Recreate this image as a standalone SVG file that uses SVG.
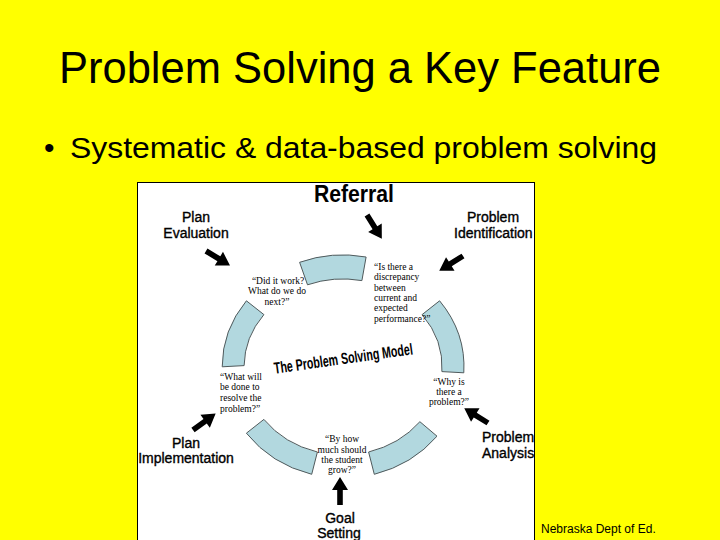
<svg xmlns="http://www.w3.org/2000/svg" width="720" height="540" viewBox="0 0 720 540">
<style>
.title{font-family:"Liberation Sans",Arial,sans-serif;fill:#000}
.lbl{font-family:"Liberation Sans",Arial,sans-serif;font-size:14px;fill:#000;stroke:#000;stroke-width:0.35}
.q{font-family:"Liberation Serif","Times New Roman",serif;font-size:9.5px;fill:#000}
.seg{fill:#b2d8df;stroke:#505a5c;stroke-width:1}
.arr{fill:#000}
</style>
<defs>
<path id="arrow" d="M0,-2.8 L15,-2.8 L15,-8 L28,0 L15,8 L15,2.8 L0,2.8 Z"/>
</defs>
<rect x="0" y="0" width="720" height="540" fill="#ffff00"/>
<text class="title" x="360" y="83" font-size="43.5" text-anchor="middle">Problem Solving a Key Feature</text>
<text class="title" x="44" y="158" font-size="30">•</text>
<text class="title" x="70" y="158" font-size="30" textLength="587" lengthAdjust="spacingAndGlyphs">Systematic &amp; data-based problem solving</text>

<rect x="137.5" y="182.5" width="397" height="362" fill="#ffffff" stroke="#000" stroke-width="1"/>

<g id="ring">
<path class="seg" d="M299.6,262.3 A121,111 0 0 1 366.1,257.0 L361.9,280.6 A99,88 0 0 0 307.5,284.8 Z"/>
<path class="seg" d="M439.6,300.8 A121,110 0 0 1 463.8,372.8 L441.9,371.6 A99,87 0 0 0 422.1,314.6 Z"/>
<path class="seg" d="M437.0,436.2 A121,110 0 0 1 374.3,474.3 L368.6,452.0 A99,87 0 0 0 419.9,421.7 Z"/>
<path class="seg" d="M311.7,474.3 A121,110 0 0 1 246.4,433.2 L263.9,419.4 A99,87 0 0 0 317.4,452.0 Z"/>
<path class="seg" d="M222.2,366.8 A121,110 0 0 1 246.4,300.8 L263.9,314.6 A99,87 0 0 0 244.1,365.6 Z"/>
</g>

<g id="connectors">
<use href="#arrow" class="arr" transform="translate(367,215) rotate(58)"/>
<use href="#arrow" class="arr" transform="translate(206,251) rotate(31)"/>
<use href="#arrow" class="arr" transform="translate(463,256) rotate(148)"/>
<use href="#arrow" class="arr" transform="translate(488,423) rotate(212)"/>
<use href="#arrow" class="arr" transform="translate(340,505) rotate(-90)"/>
<use href="#arrow" class="arr" transform="translate(193,430) rotate(-36)"/>
</g>

<g id="referral">
<text class="title" x="314" y="202" font-size="24" font-weight="bold" textLength="80" lengthAdjust="spacingAndGlyphs">Referral</text>
</g>
<g id="plan-evaluation">
<text class="lbl" x="196" y="222" text-anchor="middle">Plan</text>
<text class="lbl" x="196" y="238" text-anchor="middle">Evaluation</text>
</g>
<g id="problem-identification">
<text class="lbl" x="493" y="222" text-anchor="middle">Problem</text>
<text class="lbl" x="454" y="238">Identification</text>
</g>
<g id="problem-analysis">
<text class="lbl" x="482" y="442">Problem</text>
<text class="lbl" x="482" y="458">Analysis</text>
</g>
<g id="goal-setting">
<text class="lbl" x="340" y="523" text-anchor="middle">Goal</text>
<text class="lbl" x="339" y="538" text-anchor="middle">Setting</text>
</g>
<g id="plan-implementation">
<text class="lbl" x="186" y="448" text-anchor="middle">Plan</text>
<text class="lbl" x="186" y="463" text-anchor="middle">Implementation</text>
</g>

<g id="model-title">
<text class="title" x="344" y="364" font-size="16" font-weight="bold" text-anchor="middle" textLength="140" lengthAdjust="spacingAndGlyphs" transform="rotate(-8 344 364)">The Problem Solving Model</text>
</g>

<g id="q-evaluation">
<text class="q" x="278" y="284" text-anchor="middle">“Did it work?</text>
<text class="q" x="277" y="294" text-anchor="middle">What do we do</text>
<text class="q" x="277" y="305" text-anchor="middle">next?”</text>
</g>
<g id="q-identification">
<text class="q" x="374" y="270">“Is there a</text>
<text class="q" x="374" y="280">discrepancy</text>
<text class="q" x="374" y="291">between</text>
<text class="q" x="374" y="301">current and</text>
<text class="q" x="374" y="311">expected</text>
<text class="q" x="374" y="322">performance?”</text>
</g>
<g id="q-implementation">
<text class="q" x="220" y="380">“What will</text>
<text class="q" x="220" y="390">be done to</text>
<text class="q" x="220" y="401">resolve the</text>
<text class="q" x="220" y="412">problem?”</text>
</g>
<g id="q-analysis">
<text class="q" x="449" y="385" text-anchor="middle">“Why is</text>
<text class="q" x="449" y="395" text-anchor="middle">there a</text>
<text class="q" x="449" y="405" text-anchor="middle">problem?”</text>
</g>
<g id="q-goal">
<text class="q" x="342" y="442" text-anchor="middle">“By how</text>
<text class="q" x="342" y="453" text-anchor="middle">much should</text>
<text class="q" x="342" y="463" text-anchor="middle">the student</text>
<text class="q" x="342" y="473" text-anchor="middle">grow?”</text>
</g>

<text class="title" x="541" y="533" font-size="12">Nebraska Dept of Ed.</text>
</svg>
